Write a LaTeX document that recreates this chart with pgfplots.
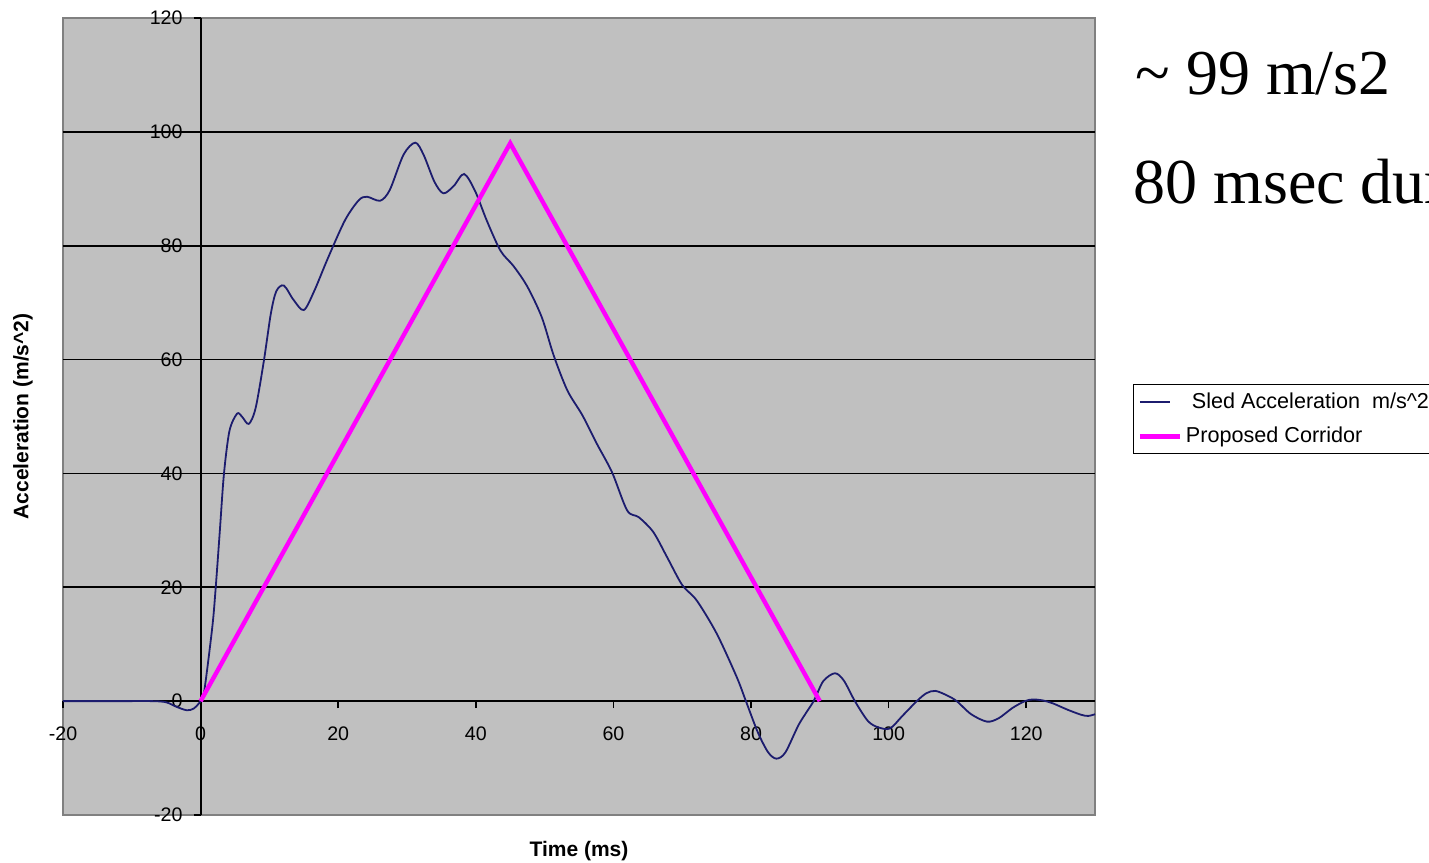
\documentclass[border=0pt]{standalone}
\usepackage{pgfplots}
\pgfplotsset{compat=1.18}
\usepackage{fontspec}
\setmainfont{Liberation Sans}
\newfontfamily\timesfont{Liberation Serif}
\definecolor{plotbg}{RGB}{192,192,192}
\definecolor{sled}{RGB}{28,28,110}
\definecolor{corr}{RGB}{255,0,255}
\definecolor{framegray}{RGB}{128,128,128}

\pgfplotstableread{
x y
-20 0
-12 0
-7 0
-5 -0.2
-3.5 -1.0
-2 -1.6
-1 -1.3
0 0
0.5 1.5
1.7 13
2.2 20
2.8 30
3.4 40
4.2 47.5
5.3 50.5
6.0 50.0
7.0 48.7
8.0 51.5
9.2 59.8
10.2 68
11.0 72
12.1 73
13.5 70.5
15.0 68.7
16.5 72
18.5 77.8
21 84.5
23 88
24.2 88.6
26.1 87.9
27.5 89.8
29.5 96
31.2 98.1
32.4 96
34 91.2
35.3 89.2
36.8 90.5
38.3 92.6
39.9 89.6
41.6 84.4
43.6 79.1
45.5 76.4
47.5 72.8
49.6 67.4
51.3 60.8
53.3 54.6
55.5 50.2
57.6 45.2
59.8 40.2
62.0 33.5
63.7 32.3
65.8 29.7
67.8 25.3
70.0 20.4
72.1 17.7
75.0 11.9
77.9 4.3
79.2 0.2
81 -5.5
82.5 -9
83.7 -10.1
85 -9
87 -4
89.1 0
90.5 3.5
92.2 4.9
93.5 3.6
95.1 0
97 -3.5
98.5 -4.6
100.2 -4.8
102 -2.6
104.1 0
105.5 1.4
106.8 1.8
108.5 1.0
109.9 0
112 -2.3
114.3 -3.6
116 -3.0
118 -1.2
119.8 0
121 0.3
122.5 0.1
123.9 -0.4
126 -1.5
128 -2.4
129 -2.6
130 -2.3
}\sledtable

\pgfplotstableread{
x y
0 0
45 98
90 0
}\corrtable

\begin{document}
\begin{tikzpicture}
\path[use as bounding box, clip] (0pt,0pt) rectangle (714.5pt,431pt);
\begin{axis}[
  at={(31.5pt,23.5pt)}, anchor=south west,
  scale only axis, width=516pt, height=398.5pt,
  xmin=-20, xmax=130, ymin=-20, ymax=120,
  axis lines*=middle,
  hide obscured x ticks=false, hide obscured y ticks=false,
  axis line style={black, line width=1pt},
  axis background/.style={fill=plotbg, draw=framegray, line width=0.8pt},
  xtick={-20,0,...,120}, ytick={-20,0,...,120},
  tick align=outside, major tick length=3.5pt,
  tick style={black, line width=0.8pt},
  extra y ticks={20,40,60,80,100}, extra y tick labels={,,,,},
  extra y tick style={grid=major, major tick length=0pt},
  major grid style={black, line width=0.9pt},
  /pgf/number format/assume math mode=true,
  tick label style={font=\fontsize{9.8}{11}\selectfont},
  xticklabel style={yshift=-6pt},
  yticklabel style={xshift=-2pt},
  xlabel={Time (ms)},
  ylabel={Acceleration (m/s\textasciicircum 2)},
  every axis x label/.style={at={(rel axis cs:0.5,0)}, anchor=center, yshift=-18pt, font=\bfseries\fontsize{10.5}{12}\selectfont},
  every axis y label/.style={at={(rel axis cs:0,0.5)}, xshift=-20pt, rotate=90, anchor=center, font=\bfseries\fontsize{10.5}{12}\selectfont},
  legend style={at={(rel axis cs:1.0368,0.5408)}, anchor=north west, draw=black, fill=white, line width=0.6pt,
    font=\fontsize{10.8}{12}\selectfont, inner xsep=2pt, inner ysep=2pt, row sep=4pt},
  legend cell align=left,
  clip=false,
]
\addplot[sled, line width=0.9pt, smooth, tension=0.5,
  legend image code/.code={\draw[sled, line width=0.9pt] (0pt,0pt) -- (15pt,0pt);}]
  table[x=x, y=y] {\sledtable};
\addlegendentry{\ Sled Acceleration\ \ m/s\textasciicircum 2}
\addplot[corr, line width=2.2pt,
  legend image code/.code={\draw[corr, line width=2.2pt] (0pt,0pt) -- (20pt,0pt);}]
  table[x=x, y=y] {\corrtable};
\addlegendentry{Proposed Corridor}
\end{axis}
\node[anchor=base west, inner sep=0pt, font=\timesfont\fontsize{32}{36}\selectfont] at (567.5pt,383.5pt) {\textasciitilde{} 99 m/s2};
\node[anchor=base west, inner sep=0pt, font=\timesfont\fontsize{32}{36}\selectfont] at (566.5pt,329.3pt) {80 msec duration};
\end{tikzpicture}
\end{document}
